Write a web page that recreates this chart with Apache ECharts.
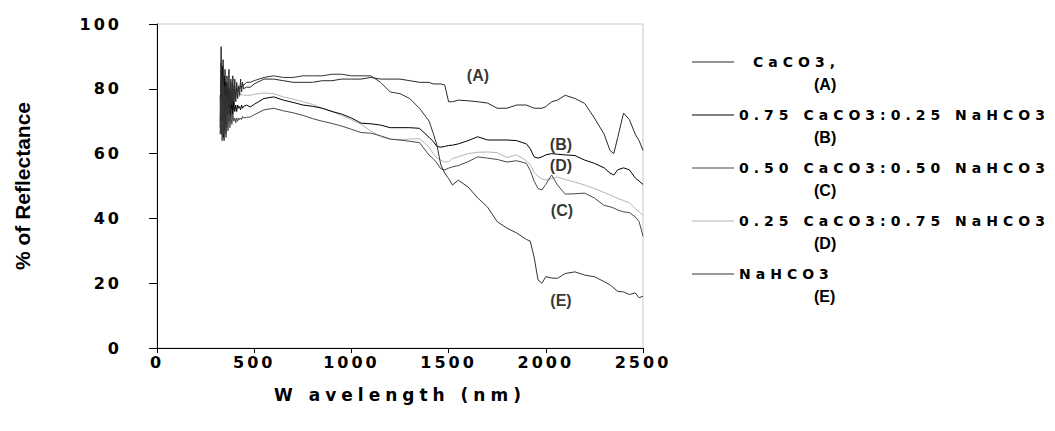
<!DOCTYPE html>
<html>
<head>
<meta charset="utf-8">
<script src="https://cdn.jsdelivr.net/npm/echarts@6/dist/echarts.min.js"></script>
<style>
html, body { margin: 0; padding: 0; background: #fff; }
#chart { width: 1055px; height: 431px; }
/* the original uses a wide, spaced bold font */
#chart text { letter-spacing: 3px; }
#chart text[style*="14px"], #chart text[style*="17px"] { letter-spacing: 5px; }
#chart text[style*="Liberation"] { letter-spacing: 0; }
</style>
</head>
<body>
<div id="chart"></div>
<script>
// wavelength (nm), shared by all spectra (noisy detector start sampled finer)
const wavelength = [325, 330, 335, 340, 345, 350, 355, 360, 365, 370, 375, 380, 385, 390, 395, 400,
    405, 410, 415, 420, 425, 430, 435, 440, 445, 460, 480, 500,
    550, 600, 650, 700, 750, 800, 850, 900, 950, 1000, 1050, 1100, 1150, 1200, 1250, 1300, 1350, 1400,
    1420, 1440, 1460, 1480, 1500, 1520, 1550, 1600, 1650, 1700, 1750, 1800, 1850, 1900,
    1920, 1940, 1960, 1980, 2000, 2030, 2060, 2100, 2150, 2200, 2250, 2300,
    2330, 2350, 2370, 2400, 2430, 2460, 2480, 2500]

// % of reflectance
const caco3 = [70, 93, 66, 89, 64, 86, 66, 84, 70, 86, 72, 83, 74, 84, 75, 83,
    76, 82, 77, 81, 78, 83, 79, 82, 80, 80.5, 80.5, 81.5,
    83, 83, 82.5, 82, 82, 82, 82.5, 82.5, 83, 83, 83, 83.5, 83, 83, 83, 82.5, 82, 82,
    81.5, 81.5, 81.5, 81.2, 76, 76, 76.5, 76.3, 76, 75.6, 74, 74, 75, 75,
    74.5, 74, 74, 74, 74.5, 76, 76.5, 78, 77, 75.5, 71, 66,
    61, 60, 65, 72.5, 70.5, 66, 64, 61]
const mix75 = [78, 66, 87, 65, 84, 67, 82, 68, 80, 70, 78, 71, 77, 72, 76, 73,
    75, 73, 75, 74, 74.5, 73.5, 75, 74, 74.5, 75, 74.4, 75.2,
    77, 77.5, 76.5, 75.8, 75, 74.6, 74, 73, 72.2, 71, 69.4, 69.2, 68.8, 68, 68, 68, 67.8, 65,
    63.8, 62.2, 62, 62.2, 62.5, 62.6, 63, 64, 65.2, 64.2, 64.2, 64.2, 64, 63,
    61.5, 59, 58.6, 59, 59.6, 60, 59.8, 59.6, 59.4, 58, 57, 55.6,
    54, 53.4, 55, 55.6, 55, 52.5, 51.5, 50.5]
const mix50 = [68, 80, 64, 82, 66, 78, 65, 76, 67, 74, 68, 72, 69, 72, 70, 71,
    69.5, 71, 70, 71, 70.5, 71, 70.5, 71.5, 71, 71.2, 71.3, 72,
    73.5, 74, 73.2, 72.6, 71.8, 70.8, 70, 69.3, 68.5, 67.5, 66.5, 66.3, 65.5, 64.5, 64.2, 63.8, 63.4, 59.5,
    58.5, 57.1, 55.3, 55, 55.5, 55.9, 56.3, 57.5, 59, 58.6, 58.2, 57.4, 57.8, 57,
    54.8, 51.5, 49.2, 48.8, 50.5, 53.4, 50.3, 47.5, 47.6, 47.8, 46.3, 44,
    43.6, 43.2, 42.6, 42, 41.8, 40.5, 39, 34.5]
const mix25 = [72, 84, 68, 86, 70, 83, 71, 81, 73, 80, 74, 79, 76, 79, 76.5, 78,
    77, 78.5, 77.5, 78, 77.5, 78.5, 78, 78.3, 78, 78, 78, 78.3,
    78.7, 78.5, 77.5, 76.8, 76, 75.2, 74, 73, 71.8, 70.5, 69, 67, 65.2, 64.4, 64.2, 64.5, 64.6, 62,
    60, 58.6, 58, 57.4, 57.5, 58.5, 59, 60, 60.4, 60.5, 60.3, 58.8, 59.6, 57.8,
    56.5, 54.2, 53, 52.2, 51.8, 52.3, 52.8, 52, 51.2, 50.3, 49.2, 48,
    47.3, 46.7, 46.2, 45.5, 44.8, 43, 42, 41]
const nahco3 = [66, 88, 70, 84, 67, 81, 69, 82, 72, 80, 73, 82, 75, 81, 76, 80,
    78, 80.5, 79, 80.5, 80, 81, 80.5, 81.5, 81, 82, 82, 82.5,
    83.5, 84, 83.5, 83.5, 84, 84, 84, 84.5, 84.5, 84, 84, 84, 82, 79, 78.5, 77, 74, 70,
    66.4, 62.6, 56.5, 54, 52.3, 50.3, 51.8, 49.7, 46.3, 43.5, 39, 37, 35.5, 33.5,
    33, 28, 21, 20, 22, 21.6, 21.5, 23, 23.5, 22.5, 22, 20.5,
    19.5, 18.5, 17.5, 17.3, 16.5, 17, 15.5, 16]

const seriesNames = ['CaCO3,', '0.75 CaCO3:0.25 NaHCO3', '0.50 CaCO3:0.50 NaHCO3', '0.25 CaCO3:0.75 NaHCO3', 'NaHCO3']
const seriesTags = ['(A)', '(B)', '(C)', '(D)', '(E)']
const seriesValues = [caco3, mix75, mix50, mix25, nahco3]
const seriesColors = ['#2a2a2a', '#000000', '#4a4a4a', '#b4b4b4', '#333333']

// in-plot labels: [wavelength, reflectance, text]
const plotLabels = [[1651, 84, '(A)'], [2078, 62.7, '(B)'], [2083, 42.3, '(C)'], [2078, 56.2, '(D)'], [2078, 14.8, '(E)']]

const mChart = echarts.init(document.getElementById('chart'), null, { renderer: 'svg' })

const boldFont = 'DejaVu Sans'
const tagFont = 'Liberation Sans'

const seriesArr = seriesNames.map((name, i) => {
    return {
        name: name,
        type: 'line',
        showSymbol: false,
        symbol: 'none',
        sampling: false,
        data: wavelength.map((w, k) => [w, seriesValues[i][k]]),
        lineStyle: { width: 1, color: seriesColors[i] },
        itemStyle: { color: seriesColors[i] },
        emphasis: { disabled: true },
        z: i === 3 ? 1 : 2
    }
})

// scatter with no symbol, only carries the (A)..(E) labels
seriesArr.push({
    name: 'tags',
    type: 'scatter',
    symbolSize: 0,
    data: plotLabels.map(p => ({ value: [p[0], p[1]], label: { formatter: p[2] } })),
    label: {
        show: true,
        position: 'inside',
        color: '#000',
        fontFamily: tagFont,
        fontWeight: 'bold',
        fontSize: 16
    },
    silent: true,
    z: 5
})

const option = {
    animation: false,
    backgroundColor: '#fff',
    grid: {
        left: 157,
        right: 412,
        top: 24,
        bottom: 83,
        show: true,
        borderColor: '#c8c8c8',
        borderWidth: 1,
        outerBoundsMode: 'none'
    },
    legend: {
        orient: 'vertical',
        left: 692,
        top: 29,
        padding: 0,
        itemGap: -13,
        itemWidth: 42,
        itemHeight: 1,
        icon: 'rect',
        selectedMode: false,
        data: seriesNames,
        formatter: name => {
            const i = seriesNames.indexOf(name)
            const pre = i === 0 ? '{s|}' : ''
            return '\n' + pre + '{n|' + name + '}\n{t|' + seriesTags[i] + '}'
        },
        textStyle: {
            color: '#000',
            fontFamily: boldFont,
            fontWeight: 'bold',
            fontSize: 14,
            lineHeight: 22,
            rich: {
                s: { width: 14 },
                n: { fontFamily: boldFont, fontWeight: 'bold', fontSize: 14, lineHeight: 22, color: '#000' },
                t: { fontFamily: tagFont, fontWeight: 'bold', fontSize: 16, lineHeight: 22, color: '#000', padding: [0, 0, 0, 75] }
            }
        }
    },
    xAxis: {
        type: 'value',
        min: 0,
        max: 2500,
        interval: 500,
        name: 'W avelength (nm)',
        nameLocation: 'middle',
        nameGap: 38,
        nameTextStyle: { color: '#000', fontFamily: boldFont, fontWeight: 'bold', fontSize: 17 },
        axisLine: { show: true, onZero: false, lineStyle: { color: '#000', width: 1 } },
        axisTick: { show: true, inside: false, length: 5, lineStyle: { color: '#000' } },
        axisLabel: { color: '#000', fontFamily: boldFont, fontWeight: 'bold', fontSize: 16, margin: 6, formatter: v => String(v) },
        splitLine: { show: false }
    },
    yAxis: {
        type: 'value',
        min: 0,
        max: 100,
        interval: 20,
        name: '% of Reflectance',
        nameLocation: 'middle',
        nameGap: 124,
        nameRotate: 90,
        nameTextStyle: { color: '#000', fontFamily: tagFont, fontWeight: 'bold', fontSize: 21 },
        axisLine: { show: true, onZero: false, lineStyle: { color: '#000', width: 1 } },
        axisTick: { show: true, inside: false, length: 8, lineStyle: { color: '#000' } },
        axisLabel: { color: '#000', fontFamily: boldFont, fontWeight: 'bold', fontSize: 16, margin: 35 },
        splitLine: { show: false }
    },
    series: seriesArr
}

mChart.setOption(option)
</script>
</body>
</html>
